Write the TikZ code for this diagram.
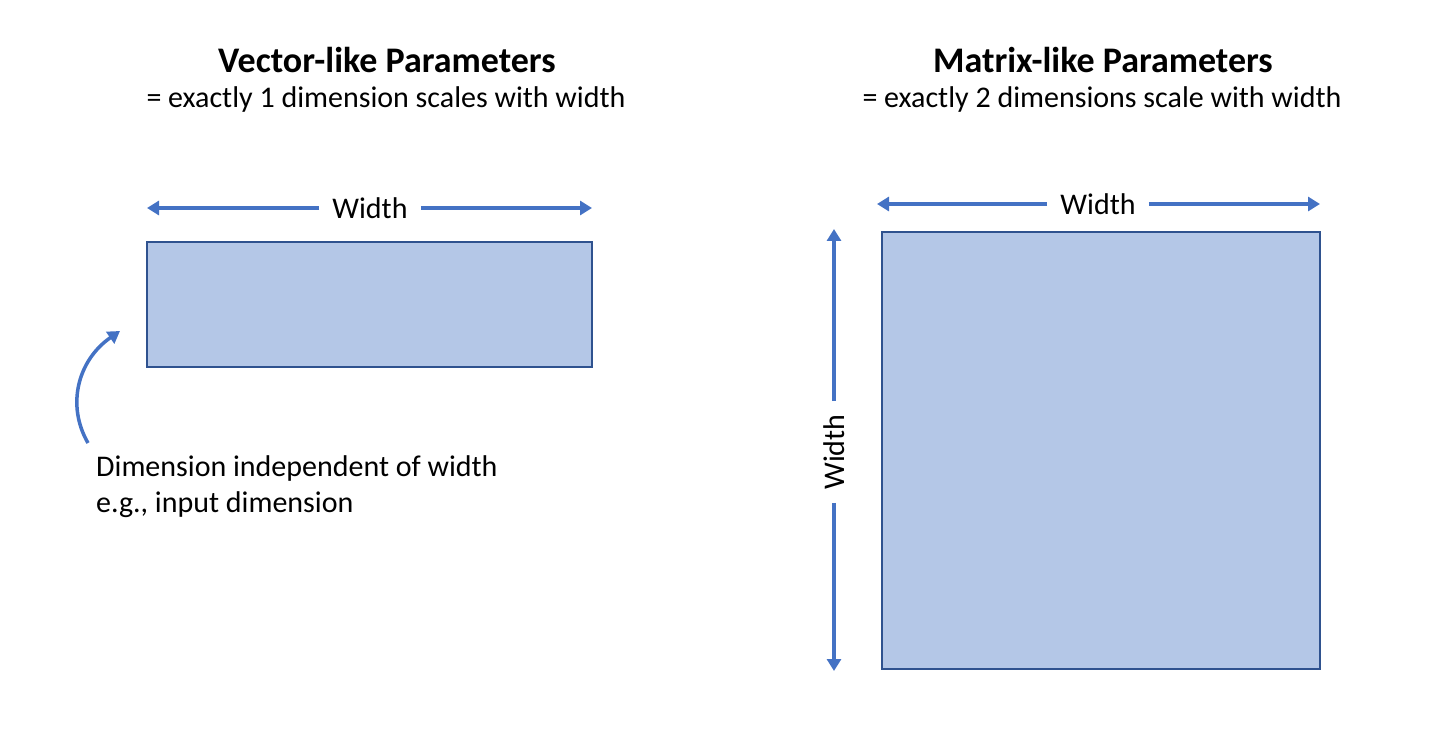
\documentclass[tikz,border=0pt]{standalone}
\usepackage{fontspec}
\setmainfont{Carlito}
\usetikzlibrary{arrows.meta}
\definecolor{arrowblue}{HTML}{4472C4}
\definecolor{boxfill}{HTML}{B4C7E7}
\definecolor{boxline}{HTML}{2F528F}
\begin{document}
\begin{tikzpicture}[x=1pt,y=-1pt,
  txt/.style={font=\fontsize{30}{36}\selectfont, inner sep=0pt},
  ttl/.style={font=\fontsize{36}{42}\selectfont\bfseries, inner sep=0pt},
  param/.style={draw=boxline, fill=boxfill, line width=2pt},
  dimarrow/.style={draw=arrowblue, line width=3.5pt, -{Triangle[length=12pt,width=14pt]}},
  lbl/.style={txt, fill=white, inner xsep=13pt, inner ysep=2pt}]
\useasboundingbox (0,0) rectangle (1452,738);
% Titles
\node[ttl] (t1) at (387,60) {Vector-like Parameters};
\node[txt] (s1) at (386,100) {= exactly 1 dimension scales with width};
\node[ttl] (t2) at (1103,60) {Matrix-like Parameters};
\node[txt] (s2) at (1102,100) {= exactly 2 dimensions scale with width};
% Left vector
\draw[param] (147,242) rectangle (592,367);
\node[lbl] (w1) at (370,208) {Width};
\coordinate (l1) at (147,0 |- w1.west);
\coordinate (r1) at (592,0 |- w1.east);
\draw[dimarrow] (w1.west) -- (w1.west -| l1);
\draw[dimarrow] (w1.east) -- (w1.east -| r1);
% Curved arrow
\coordinate (cs) at (88,443);
\coordinate (ce) at (120,331);
\draw[dimarrow] (cs) .. controls (66,405) and (78,360) .. (ce);
\node[txt, anchor=north west, align=left] (note) at (96,455) {Dimension independent of width\\e.g., input dimension};
% Right matrix
\draw[param] (882,232) rectangle (1320,669);
\node[lbl] (w2) at (1098,204) {Width};
\coordinate (l2) at (877,0 |- w2.west);
\coordinate (r2) at (1320,0 |- w2.east);
\draw[dimarrow] (w2.west) -- (w2.west -| l2);
\draw[dimarrow] (w2.east) -- (w2.east -| r2);
\node[lbl, rotate=90] (w3) at (834,452) {Width};
\coordinate (u2) at (w3.east |- 0,229);
\coordinate (d2) at (w3.west |- 0,671);
\draw[dimarrow] (w3.east) -- (u2);
\draw[dimarrow] (w3.west) -- (d2);
\end{tikzpicture}
\end{document}
